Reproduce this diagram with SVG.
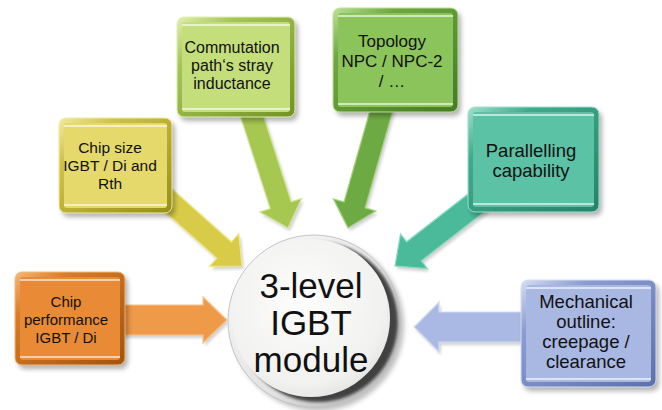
<svg xmlns="http://www.w3.org/2000/svg" width="662" height="410" viewBox="0 0 662 410">
<defs>
<style>
text { font-family: "Liberation Sans", Arial, sans-serif; fill: #111; text-anchor: middle; }
.hl { fill: #ffffff; opacity: 0.6; }
.sh { fill: #000; opacity: 0.3; }
.ash { fill: #000; opacity: 0.18; }
.big { font-size: 35px; }
</style>
<filter id="blur" x="-20%" y="-20%" width="140%" height="140%"><feGaussianBlur stdDeviation="2.5"/></filter>
<filter id="blur2" x="-20%" y="-20%" width="140%" height="140%"><feGaussianBlur stdDeviation="1.8"/></filter>
<linearGradient id="bO" x1="0" y1="0" x2="1" y2="1"><stop offset="0" stop-color="#F6B878"/><stop offset="0.25" stop-color="#D97A28"/><stop offset="1" stop-color="#A05410"/></linearGradient>
<linearGradient id="bY" x1="0" y1="0" x2="1" y2="1"><stop offset="0" stop-color="#F2EAA0"/><stop offset="0.25" stop-color="#CFC248"/><stop offset="1" stop-color="#968E18"/></linearGradient>
<linearGradient id="bL" x1="0" y1="0" x2="1" y2="1"><stop offset="0" stop-color="#E0F0B0"/><stop offset="0.25" stop-color="#A6C458"/><stop offset="1" stop-color="#729424"/></linearGradient>
<linearGradient id="bG" x1="0" y1="0" x2="1" y2="1"><stop offset="0" stop-color="#BEE09A"/><stop offset="0.25" stop-color="#6FA840"/><stop offset="1" stop-color="#437C22"/></linearGradient>
<linearGradient id="bT" x1="0" y1="0" x2="1" y2="1"><stop offset="0" stop-color="#A0E0CC"/><stop offset="0.25" stop-color="#40AA8C"/><stop offset="1" stop-color="#26826A"/></linearGradient>
<linearGradient id="bV" x1="0" y1="0" x2="1" y2="1"><stop offset="0" stop-color="#D6DEF4"/><stop offset="0.25" stop-color="#8A9CD0"/><stop offset="1" stop-color="#5E70AA"/></linearGradient>
<linearGradient id="rim" x1="0" y1="0" x2="1" y2="1"><stop offset="0" stop-color="#fbfbfb"/><stop offset="0.6" stop-color="#e2e2e2"/><stop offset="1" stop-color="#a8a8a8"/></linearGradient>
<radialGradient id="face" cx="0.45" cy="0.4" r="0.65"><stop offset="0" stop-color="#fdfdfc"/><stop offset="0.8" stop-color="#f1f1ef"/><stop offset="1" stop-color="#e2e2e0"/></radialGradient>
</defs>

<g id="connectors">
  <polygon class="ash" filter="url(#blur2)" transform="translate(2,3)" points="118,305 203,305 203,297 227,320 203,343 203,335 118,335"/>
  <polygon fill="#EE9A48" stroke="#F8C48A" stroke-width="1.2" points="118,305 203,305 203,297 227,320 203,343 203,335 118,335"/>
  <polygon class="ash" filter="url(#blur2)" transform="translate(2,3)" points="142.7,192.2 216.8,258.2 209.4,266.4 242,266 238.8,233.6 231.4,241.8 157.3,175.8"/>
  <polygon fill="#D8CB48" stroke="#F0E88A" stroke-width="1.2" points="142.7,192.2 216.8,258.2 209.4,266.4 242,266 238.8,233.6 231.4,241.8 157.3,175.8"/>
  <polygon class="ash" filter="url(#blur2)" transform="translate(2,3)" points="239.5,113.4 270.2,208.6 259.8,211.9 288,228 301.6,198.5 291.2,201.8 260.5,106.6"/>
  <polygon fill="#A6C850" stroke="#D2E69A" stroke-width="1.2" points="239.5,113.4 270.2,208.6 259.8,211.9 288,228 301.6,198.5 291.2,201.8 260.5,106.6"/>
  <polygon class="ash" filter="url(#blur2)" transform="translate(2,3)" points="372.4,102 344,201.9 333.4,198.9 348,228 375.8,210.9 365.2,207.9 393.6,108"/>
  <polygon fill="#6EAA44" stroke="#A8D482" stroke-width="1.2" points="372.4,102 344,201.9 333.4,198.9 348,228 375.8,210.9 365.2,207.9 393.6,108"/>
  <polygon class="ash" filter="url(#blur2)" transform="translate(2,3)" points="472.6,190.5 406.6,241.8 400.5,233.9 395,266 427.5,268.7 421.4,260.8 487.4,209.5"/>
  <polygon fill="#4BBA9A" stroke="#8ADCC4" stroke-width="1.2" points="472.6,190.5 406.6,241.8 400.5,233.9 395,266 427.5,268.7 421.4,260.8 487.4,209.5"/>
  <polygon class="ash" filter="url(#blur2)" transform="translate(2,3)" points="530,312 439,312 439,302 414,327 439,352 439,342 530,342"/>
  <polygon fill="#A9B9E3" stroke="#D4DCF2" stroke-width="1.2" points="530,312 439,312 439,302 414,327 439,352 439,342 530,342"/>
</g>

<g id="n-chip-performance">
  <rect class="sh" filter="url(#blur)" x="18" y="276" width="110" height="93" rx="7"/>
  <rect x="15" y="272" width="110" height="93" rx="7" fill="url(#bO)" stroke="#F6B878" stroke-width="1"/>
  <rect x="20" y="277" width="100" height="83" rx="3" fill="#E98A36"/>
  <rect class="hl" x="20" y="279" width="100" height="2"/>
  <rect class="hl" x="20" y="356" width="100" height="2"/>
  <text font-size="15" x="66" y="307">Chip</text>
  <text font-size="15" x="66" y="325">performance</text>
  <text font-size="15" x="66" y="343">IGBT / Di</text>
</g>

<g id="n-chip-size">
  <rect class="sh" filter="url(#blur)" x="62" y="122" width="113" height="95" rx="7"/>
  <rect x="59" y="118" width="113" height="95" rx="7" fill="url(#bY)" stroke="#F2EAA0" stroke-width="1"/>
  <rect x="64" y="123" width="103" height="85" rx="3" fill="#E4D96A"/>
  <rect class="hl" x="64" y="125" width="103" height="2"/>
  <rect class="hl" x="64" y="204" width="103" height="2"/>
  <text font-size="15.5" x="110" y="153">Chip size</text>
  <text font-size="15.5" x="110" y="171">IGBT / Di and</text>
  <text font-size="15.5" x="110" y="189">Rth</text>
</g>

<g id="n-commutation">
  <rect class="sh" filter="url(#blur)" x="180" y="21" width="118" height="100" rx="7"/>
  <rect x="177" y="17" width="118" height="100" rx="7" fill="url(#bL)" stroke="#E0F0B0" stroke-width="1"/>
  <rect x="182" y="22" width="108" height="90" rx="3" fill="#C5DE7C"/>
  <rect class="hl" x="182" y="24" width="108" height="2"/>
  <rect class="hl" x="182" y="108" width="108" height="2"/>
  <text font-size="16" x="232" y="53">Commutation</text>
  <text font-size="16" x="232" y="71">path‘s stray</text>
  <text font-size="16" x="232" y="89">inductance</text>
</g>

<g id="n-topology">
  <rect class="sh" filter="url(#blur)" x="336" y="12" width="125" height="104" rx="7"/>
  <rect x="333" y="8" width="125" height="104" rx="7" fill="url(#bG)" stroke="#BEE09A" stroke-width="1"/>
  <rect x="338" y="13" width="115" height="94" rx="3" fill="#8CC45C"/>
  <rect class="hl" x="338" y="15" width="115" height="2"/>
  <rect class="hl" x="338" y="103" width="115" height="2"/>
  <text font-size="17" x="392" y="47">Topology</text>
  <text font-size="17" x="392" y="67">NPC / NPC-2</text>
  <text font-size="17" x="392" y="87">/ …</text>
</g>

<g id="n-parallelling">
  <rect class="sh" filter="url(#blur)" x="471" y="111" width="131" height="105" rx="7"/>
  <rect x="468" y="107" width="131" height="105" rx="7" fill="url(#bT)" stroke="#A0E0CC" stroke-width="1"/>
  <rect x="473" y="112" width="121" height="95" rx="3" fill="#5CC2A6"/>
  <rect class="hl" x="473" y="114" width="121" height="2"/>
  <rect class="hl" x="473" y="203" width="121" height="2"/>
  <text font-size="18.5" x="531" y="157">Parallelling</text>
  <text font-size="18.5" x="531" y="177">capability</text>
</g>

<g id="n-mechanical">
  <rect class="sh" filter="url(#blur)" x="524" y="284" width="135" height="107" rx="7"/>
  <rect x="521" y="280" width="135" height="107" rx="7" fill="url(#bV)" stroke="#D6DEF4" stroke-width="1"/>
  <rect x="526" y="285" width="125" height="97" rx="3" fill="#A9B8E2"/>
  <rect class="hl" x="526" y="287" width="125" height="2"/>
  <rect class="hl" x="526" y="378" width="125" height="2"/>
  <text font-size="18.5" x="586" y="308">Mechanical</text>
  <text font-size="18.5" x="586" y="328">outline:</text>
  <text font-size="18.5" x="586" y="348">creepage /</text>
  <text font-size="18.5" x="586" y="368">clearance</text>
</g>

<g id="n-center">
  <circle cx="318" cy="325" r="86" fill="#000" opacity="0.25" filter="url(#blur)"/>
  <circle cx="314" cy="321" r="86" fill="url(#rim)" stroke="#c4c4c4" stroke-width="1"/>
  <circle cx="318" cy="322" r="80" fill="#2a2a2a" opacity="0.85" filter="url(#blur2)"/>
  <circle cx="311" cy="318" r="79" fill="url(#face)"/>
  <text class="big" x="311" y="298">3-level</text>
  <text class="big" x="311" y="335">IGBT</text>
  <text class="big" x="311" y="372">module</text>
</g>
</svg>
